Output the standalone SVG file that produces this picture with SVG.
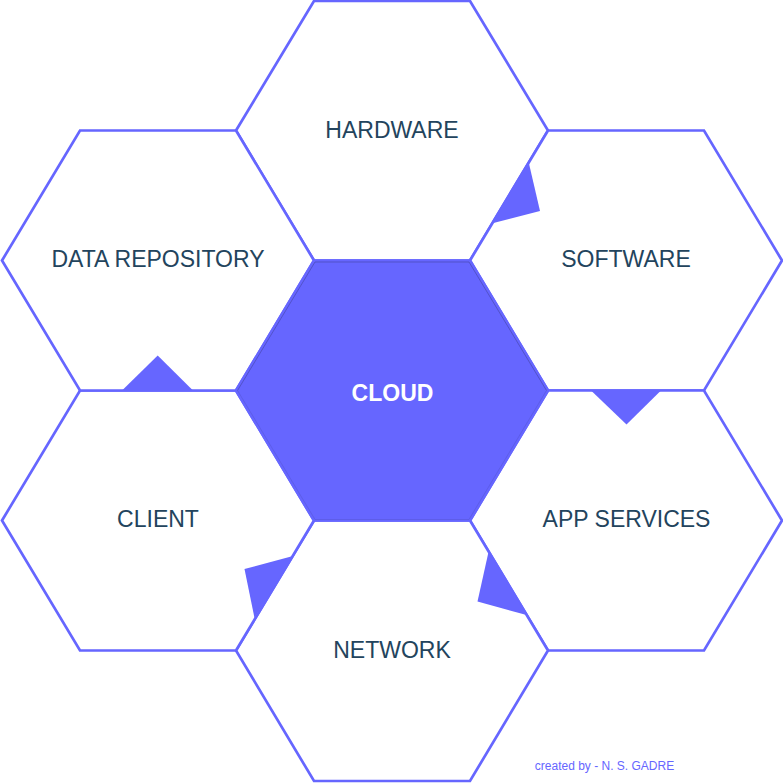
<svg xmlns="http://www.w3.org/2000/svg" width="783" height="783" viewBox="0 0 783 783">
<style>
.hex{fill:#fff;stroke:#6666ff;stroke-width:2.7;stroke-linejoin:miter}
.tip{fill:#6666ff;stroke:none}
.lbl{font-family:"Liberation Sans",Arial,sans-serif;font-size:23px;fill:#23445d;text-anchor:middle}
</style>
<rect width="783" height="783" fill="#fff"/>
<g id="node-hardware"><polygon class="hex" points="236,130.500 314,1 470,1 548,130.500 470,260.500 314,260.500"/><text class="lbl" x="392" y="137.500">HARDWARE</text></g>
<g id="node-software"><polygon class="hex" points="470,260.500 548,130.500 704,130.500 782,260.500 704,390.500 548,390.500"/><text class="lbl" x="626" y="266.500">SOFTWARE</text></g>
<g id="node-app-services"><polygon class="hex" points="470,520.500 548,390.500 704,390.500 782,520.500 704,650.500 548,650.500"/><text class="lbl" x="626.500" y="526.500">APP SERVICES</text></g>
<g id="node-network"><polygon class="hex" points="236,650.500 314,520.500 470,520.500 548,650.500 470,781 314,781"/><text class="lbl" x="392" y="657.500">NETWORK</text></g>
<g id="node-client"><polygon class="hex" points="2,520.500 80,390.500 236,390.500 314,520.500 236,650.500 80,650.500"/><text class="lbl" x="158" y="526.500">CLIENT</text></g>
<g id="node-data-repository"><polygon class="hex" points="2,260.500 80,130.500 236,130.500 314,260.500 236,390.500 80,390.500"/><text class="lbl" x="158" y="266.500">DATA REPOSITORY</text></g>
<g id="connectors">
<polygon class="tip" points="528.500,161.500 540,211 491.500,223.500"/>
<polygon class="tip" points="661.500,390 626.500,424.500 590.500,390"/>
<polygon class="tip" points="526.500,615 477.500,601.500 488.500,552"/>
<polygon class="tip" points="293,556 244.500,569 254.500,618"/>
<polygon class="tip" points="121.500,391 157.700,355.500 193.500,391"/>
</g>
<g id="node-cloud"><polygon points="236,390.500 314,260.500 470,260.500 548,390.500 470,520.500 314,520.500" fill="#6666ff" stroke="#6666ff" stroke-width="2.700"/><path d="M237.500,390.500 315,262H469L546.500,390.500" fill="none" stroke="#4a4ab3" stroke-width="0.700"/><path d="M546.500,390.500 469,519.500H315L237.500,390.500" fill="none" stroke="#5a5ae0" stroke-width="0.700"/><text x="392.500" y="400.500" font-family="'Liberation Sans',Arial,sans-serif" font-size="23" font-weight="700" fill="#fff" text-anchor="middle">CLOUD</text></g>
<text id="credit" x="604.500" y="770" font-family="'Liberation Sans',Arial,sans-serif" font-size="12" fill="#6666ff" text-anchor="middle">created by - N. S. GADRE</text>
</svg>
